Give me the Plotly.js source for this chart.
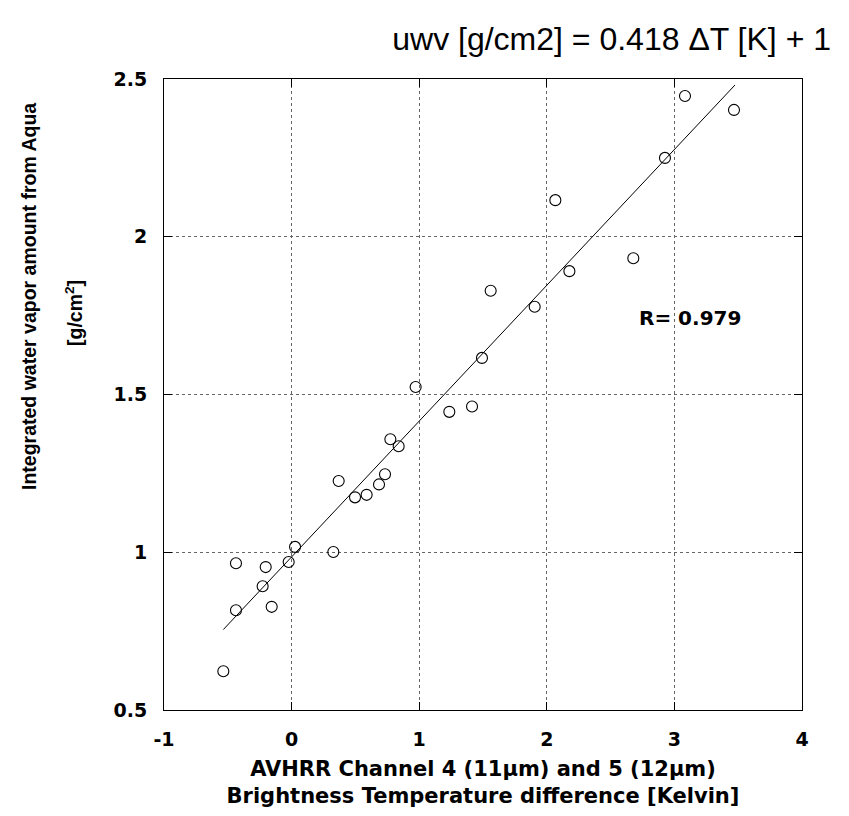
<!DOCTYPE html>
<html>
<head>
<meta charset="utf-8">
<script src="https://cdn.plot.ly/plotly-3.0.1.min.js"></script>
<style>html,body{margin:0;padding:0;background:#fff;}#chart{width:849px;height:816px;}</style>
</head>
<body>
<div id="chart"></div>
<script>
// Brightness temperature difference (K) and integrated water vapour (g/cm2)
const deltaT = [-0.535,-0.436,-0.436,-0.227,-0.203,-0.156,-0.023,0.027,0.327,0.369,0.497,0.588,0.685,0.732,0.774,0.839,0.972,1.236,1.414,1.492,1.560,1.905,2.067,2.177,2.678,2.926,3.083,3.467];
const uwv    = [0.623,0.816,0.965,0.892,0.953,0.827,0.969,1.017,1.001,1.226,1.174,1.182,1.215,1.247,1.358,1.336,1.524,1.445,1.462,1.616,1.829,1.778,2.116,1.891,1.932,2.250,2.446,2.402];
// Regression line end points
const fitX = [-0.535, 3.475];
const fitY = [0.755, 2.481];
// Tick labels
const xTickVals = [-1,0,1,2,3,4];
const xTickText = ['-1','0','1','2','3','4'];
const yTickVals = [0.5,1,1.5,2,2.5];
const yTickText = ['0.5','1','1.5','2','2.5'];
const titleText = 'uwv [g/cm2] = 0.418 \u0394T [K] + 1';
const rText = 'R= 0.979';

const boldFont = {family:'"DejaVu Sans", Verdana, sans-serif', weight:'bold', color:'#000'};
const boldArial = {family:'"Liberation Sans", Arial, sans-serif', weight:'bold', color:'#000'};

const traces = [
  {x: fitX, y: fitY, mode:'lines', type:'scatter', line:{color:'#000', width:1}, hoverinfo:'skip', showlegend:false},
  {x: deltaT, y: uwv, mode:'markers', type:'scatter', marker:{symbol:'circle-open', size:11, color:'#000', line:{width:1.1, color:'#000'}}, showlegend:false}
];

const axisCommon = {
  showline:true, linecolor:'#000', linewidth:1, mirror:'ticks',
  ticks:'inside', ticklen:8, tickcolor:'#000', tickwidth:1,
  showgrid:true, gridcolor:'#666', gridwidth:1, griddash:'3px,3px',
  zeroline:false, tickmode:'array'
};

const layout = {
  width:849, height:816,
  margin:{l:164, r:47, t:79, b:106},
  paper_bgcolor:'#fff', plot_bgcolor:'#fff',
  showlegend:false,
  title:{text:titleText, font:{family:'"Liberation Sans", Arial, sans-serif', size:32, color:'#000'},
         x:831/849, xanchor:'right', xref:'container', y:1-39/816, yanchor:'middle', yref:'container'},
  xaxis: Object.assign({}, axisCommon, {
    range:[-1,4], tickvals:xTickVals, ticktext:xTickText,
    tickfont:Object.assign({size:19}, boldFont), ticklabelstandoff:12,
    title:{text:'AVHRR Channel 4 (11\u00b5m) and 5 (12\u00b5m)<br>Brightness Temperature difference [Kelvin]',
           font:Object.assign({size:21}, boldFont), standoff:12}
  }),
  yaxis: Object.assign({}, axisCommon, {
    range:[0.5,2.5], tickvals:yTickVals, ticktext:yTickText,
    tickfont:Object.assign({size:19}, boldFont), ticklabelstandoff:12
  }),
  annotations:[
    {text:rText, xref:'paper', yref:'paper', x:(690-164)/638, y:(710-318)/631, xanchor:'center', yanchor:'middle', showarrow:false, font:Object.assign({size:20}, boldFont)},
    {text:'Integrated water vapor amount from Aqua', xref:'paper', yref:'paper', x:0, y:(710-297)/631, xshift:29-164, xanchor:'center', yanchor:'middle', textangle:-90, showarrow:false, font:Object.assign({size:19.5}, boldArial)},
    {text:'[g/cm<sup>2</sup>]', xref:'paper', yref:'paper', x:0, y:(710-313)/631, xshift:74-164, xanchor:'center', yanchor:'middle', textangle:-90, showarrow:false, font:Object.assign({size:19.5}, boldArial)}
  ]
};

Plotly.newPlot('chart', traces, layout, {displayModeBar:false, staticPlot:true});
</script>
</body>
</html>
